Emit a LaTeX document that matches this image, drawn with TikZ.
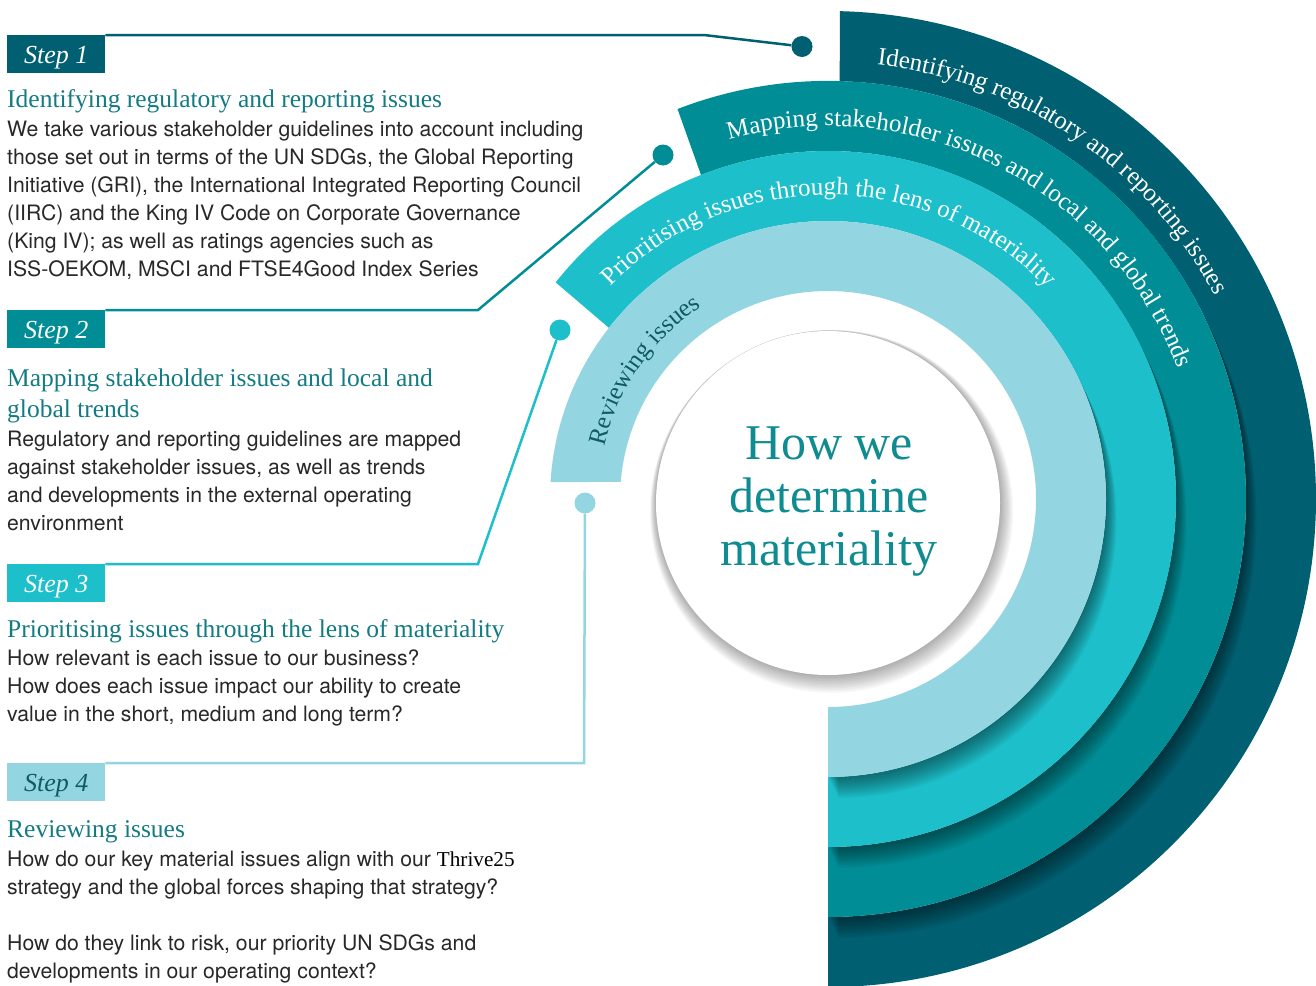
\documentclass[tikz,border=0pt]{standalone}
\usepackage{fontspec}
\setmainfont{Liberation Serif}
\newfontfamily\bodysans{TeX Gyre Heros}
\usetikzlibrary{decorations.text}

\definecolor{cOne}{HTML}{005F70}
\definecolor{cTwo}{HTML}{008D96}
\definecolor{cThree}{HTML}{1CBFCA}
\definecolor{cFour}{HTML}{93D6E2}
\definecolor{headc}{HTML}{137B82}
\definecolor{bodyc}{HTML}{2A2728}
\definecolor{centc}{HTML}{0F8B92}
\definecolor{darkt}{HTML}{0E5A66}

\newcommand\ringpath[4]{(#2:#1) arc[start angle=#2,end angle=-90,radius=#1] -- (-90:#3) arc[start angle=-90,end angle=#4,radius=#3] -- cycle}
\newcommand\ringfont{\fontsize{25}{30}\selectfont}

\tikzset{
  stepbox/.style={minimum width=98pt, minimum height=38pt, inner sep=0pt,
    text height=28pt, text depth=10pt, anchor=north west,
    font=\fontsize{26}{30}\selectfont\itshape},
  head/.style={font=\fontsize{25.5}{31}\selectfont, text=headc, anchor=base west, inner sep=0pt},
  body/.style={font=\bodysans\fontsize{21.2}{28}\selectfont, text=bodyc, anchor=base west, inner sep=0pt},
  dot/.style={circle, minimum size=21pt, inner sep=0pt},
  conn/.style={line width=2.5pt},
  ringtext/.style={decorate, decoration={text along path, text align=center, text color=#1}},
  ringshadow/.style={fill=black, opacity=0.036},
}

\begin{document}
\begin{tikzpicture}[x=1pt,y=1pt]
\useasboundingbox (0,0) rectangle (1316,-985);
\fill[white] (0,0) rectangle (1316,-985);

% ---------- rings ----------
\begin{scope}[shift={(828,-499)}]
  \fill[cOne] \ringpath{488}{88.6}{418}{88.4};
  \begin{scope}
    \clip \ringpath{488}{88.6}{418}{88.4};
    \foreach \i in {1,...,14}{\path[ringshadow,shift={(0.75*\i,-1.5*\i)}] \ringpath{418}{111.1}{348}{111.4};}
  \end{scope}
  \fill[cTwo] \ringpath{418}{111.1}{348}{111.4};
  \begin{scope}
    \clip \ringpath{418}{111.1}{348}{111.4};
    \foreach \i in {1,...,14}{\path[ringshadow,shift={(0.75*\i,-1.5*\i)}] \ringpath{348}{141.5}{278}{142};}
  \end{scope}
  \fill[cThree] \ringpath{348}{141.5}{278}{142};
  \begin{scope}
    \clip \ringpath{348}{141.5}{278}{142};
    \foreach \i in {1,...,14}{\path[ringshadow,shift={(0.75*\i,-1.5*\i)}] \ringpath{278}{176.5}{208}{175.3};}
  \end{scope}
  \fill[cFour] \ringpath{278}{176.5}{208}{175.3};

  % centre disc with soft shadow
  \foreach \i in {1,...,12}{\fill[black,opacity=0.028] (0.3*\i,-4-0.7*\i) circle[radius=172+0.8*\i];}
  \fill[white] (0,-4) circle[radius=172];

  % ring labels
  \path[ringtext=white, decoration={text={|\ringfont|Identifying regulatory and reporting issues}}]
    (125.6:437) arc[start angle=125.6, end angle=-14.4, radius=437];
  \path[ringtext=white, decoration={text={|\ringfont|Mapping stakeholder issues and local and global trends}}]
    (132.9:373) arc[start angle=132.9, end angle=-7.1, radius=373];
  \path[ringtext=white, decoration={text={|\ringfont|Prioritising issues through the lens of materiality}}]
    (159.7:304) arc[start angle=159.7, end angle=19.7, radius=304];
  \path[ringtext=darkt, decoration={text={|\ringfont|Reviewing issues}}]
    (215:230) arc[start angle=215, end angle=75, radius=230];
\end{scope}

\node[align=center, text=centc, font=\fontsize{50}{53}\selectfont, inner sep=0pt] (title) at (829,-502) {How we\\determine\\materiality};

% ---------- step boxes ----------
\node[stepbox, fill=cOne, text=white] (s1) at (7,-35) {Step 1};
\node[stepbox, fill=cTwo, text=white] (s2) at (7,-310) {Step 2};
\node[stepbox, fill=cThree, text=white] (s3) at (7,-564) {Step 3};
\node[stepbox, fill=cFour, text=darkt] (s4) at (7,-763) {Step 4};

% ---------- dots and connectors ----------
\node[dot, fill=cOne] (d1) at (802,-46.5) {};
\node[dot, fill=cTwo] (d2) at (663,-155) {};
\node[dot, fill=cThree] (d3) at (560,-330) {};
\node[dot, fill=cFour] (d4) at (585,-503) {};
\coordinate (k1) at (704,-35);
\coordinate (k2) at (478,-310);
\coordinate (k3) at (478,-564);
\coordinate (k4) at (584,-763);
\draw[conn, cOne] (s1.north east) -- (k1) -- (d1);
\draw[conn, cTwo] (s2.north east) -- (k2) -- (d2);
\draw[conn, cThree] (s3.north east) -- (k3) -- (d3);
\draw[conn, cFour] (s4.north east) -- (k4) -- (d4);

% ---------- texts ----------
\node[head] (h1) at (7,-107) {Identifying regulatory and reporting issues};
\foreach \t [count=\k] in {{We take various stakeholder guidelines into account including},{those set out in terms of the UN SDGs, the Global Reporting},{Initiative (GRI), the International Integrated Reporting Council},{(IIRC) and the King IV Code on Corporate Governance},{(King IV); as well as ratings agencies such as},{ISS-OEKOM, MSCI and FTSE4Good Index Series}}
  \node[body] (ba\k) at (7,-108-28*\k) {\t};

\node[head] (h2a) at (7,-386) {Mapping stakeholder issues and local and};
\node[head] (h2b) at (7,-417) {global trends};
\foreach \t [count=\k] in {{Regulatory and reporting guidelines are mapped},{against stakeholder issues, as well as trends},{and developments in the external operating},{environment}}
  \node[body] (bb\k) at (7,-418-28*\k) {\t};

\node[head] (h3) at (7,-637) {Prioritising issues through the lens of materiality};
\foreach \t [count=\k] in {{How relevant is each issue to our business?},{How does each issue impact our ability to create},{value in the short, medium and long term?}}
  \node[body] (bc\k) at (7,-637-28*\k) {\t};

\node[head] (h4) at (7,-837) {Reviewing issues};
\node[body] (bd1) at (7,-866) {How do our key material issues align with our {\rmfamily\color{black}Thrive25}};
\node[body] (bd2) at (7,-894) {strategy and the global forces shaping that strategy?};
\node[body] (bd3) at (7,-950) {How do they link to risk, our priority UN SDGs and};
\node[body] (bd4) at (7,-978) {developments in our operating context?};
\end{tikzpicture}
\end{document}
